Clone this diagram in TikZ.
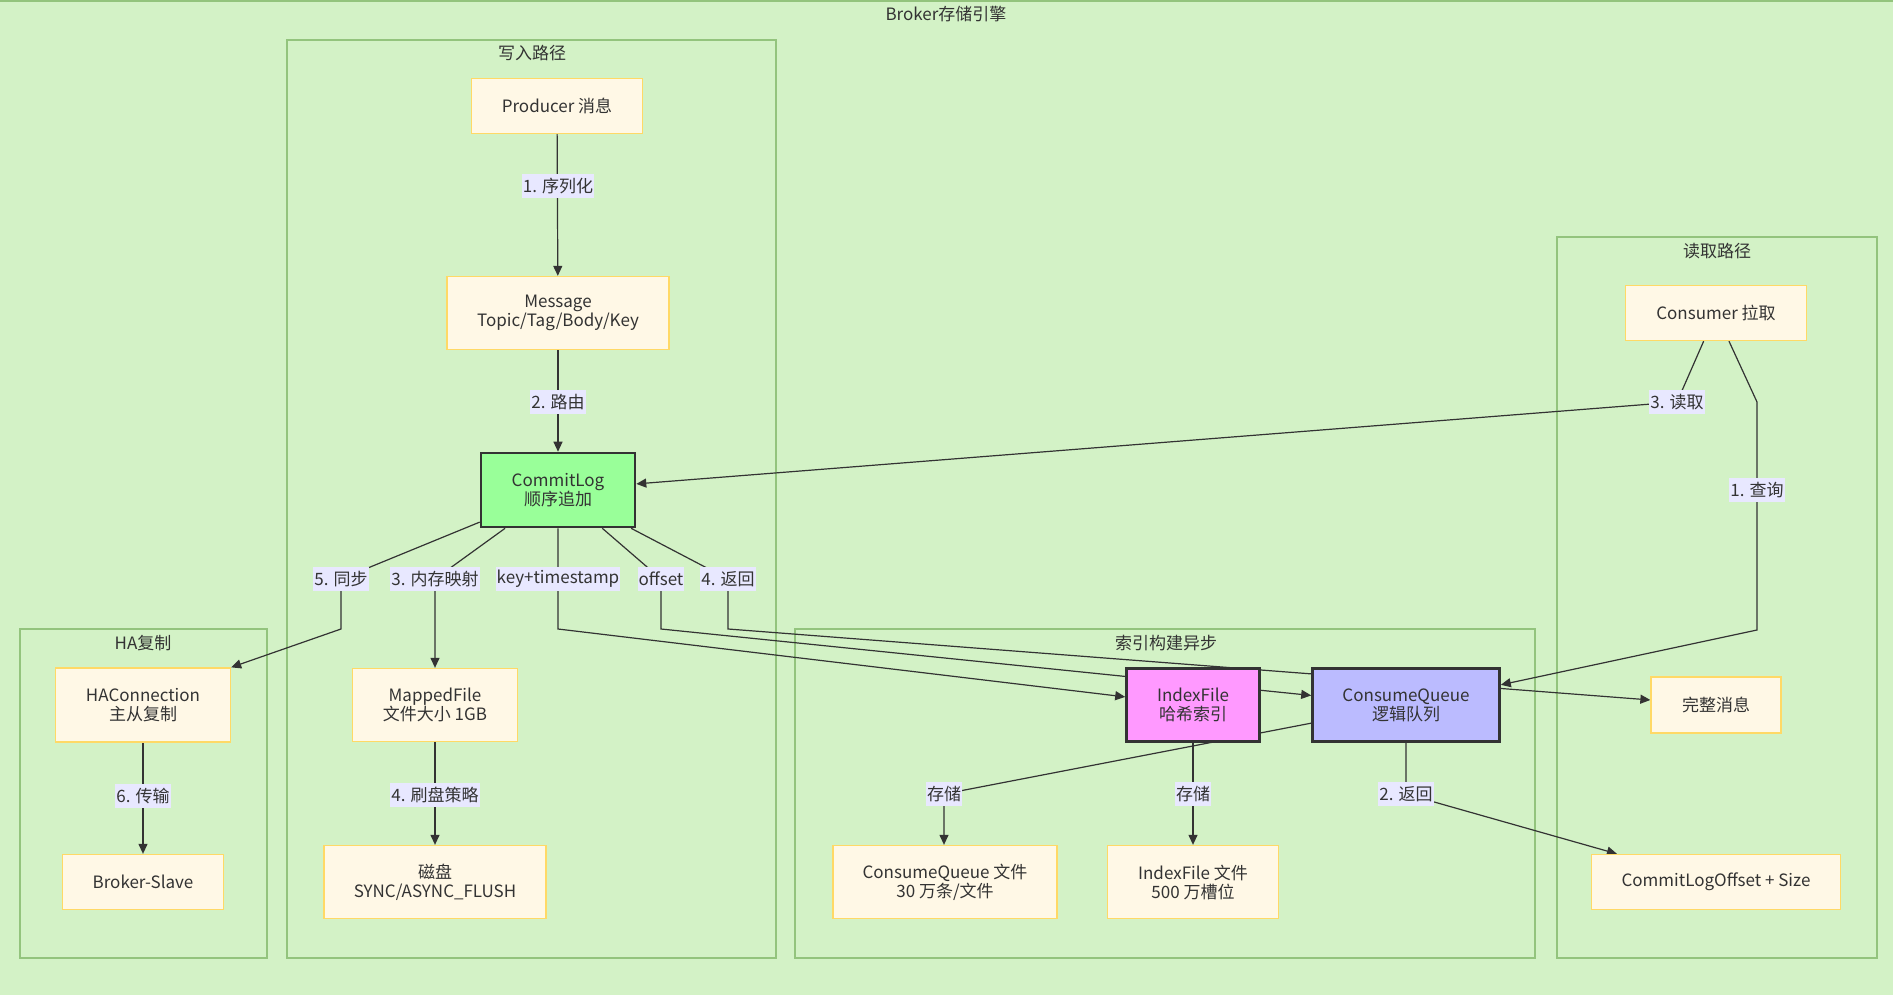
\documentclass[tikz,border=0pt]{standalone}
\usepackage{fontspec}
\setmainfont{Noto Sans CJK SC}
\usetikzlibrary{arrows.meta}
\definecolor{bgc}{HTML}{D3F2C6}
\definecolor{clus}{HTML}{93C47D}
\definecolor{nfill}{HTML}{FFF8E6}
\definecolor{ndraw}{HTML}{FFD966}
\definecolor{lblbg}{HTML}{E8E8FF}
\definecolor{txt}{HTML}{333333}
\definecolor{clfill}{HTML}{99FF99}
\definecolor{iffill}{HTML}{FF99FF}
\definecolor{cqfill}{HTML}{BBBBFF}
\pgfdeclarelayer{bglayer}
\pgfdeclarelayer{edgelayer}
\pgfsetlayers{bglayer,edgelayer,main}
\tikzset{
  nbox/.style={rectangle, draw=ndraw, fill=nfill, line width=1.3pt, text=txt,
    font=\fontsize{17}{19}\selectfont, align=center, inner sep=0pt},
  hbox/.style={nbox, draw=txt, line width=2.6pt},
  elbl/.style={rectangle, fill=lblbg, text=txt, font=\fontsize{17}{19}\selectfont,
    inner xsep=1pt, inner ysep=0pt, minimum height=24pt},
  clusterbox/.style={draw=clus, line width=1.4pt},
  ctitle/.style={text=txt, font=\fontsize{17}{19}\selectfont, inner sep=0pt},
  edgeline/.style={draw=txt, line width=1.2pt},
  arr/.style={edgeline, -{Triangle[length=10pt,width=9pt]}},
}
\begin{document}
\begin{tikzpicture}[x=1pt,y=-1pt]
\useasboundingbox (0,0) rectangle (1893,995);
\begin{pgfonlayer}{bglayer}
  \fill[bgc] (0,0) rectangle (1893,995);
  \draw[clus, line width=2pt] (0,1) -- (1893,1);
  \draw[clusterbox] (287,40) rectangle (776,958);
  \draw[clusterbox] (20,629) rectangle (267,958);
  \draw[clusterbox] (795,629) rectangle (1535,958);
  \draw[clusterbox] (1557,237) rectangle (1877,958);
\end{pgfonlayer}
% cluster titles
\node[ctitle] (tout) at (946,14) {Broker存储引擎};
\node[ctitle] (twrite) at (532,53) {写入路径};
\node[ctitle] (tha) at (143,643) {HA复制};
\node[ctitle] (tidx) at (1166,643) {索引构建异步};
\node[ctitle] (tread) at (1717,251) {读取路径};
% nodes
\node[nbox, minimum width=171pt, minimum height=55pt] (producer) at (557,106) {Producer 消息};
\node[nbox, minimum width=222pt, minimum height=73pt] (message) at (558,313) {Message\\Topic/Tag/Body/Key};
\node[hbox, fill=clfill, minimum width=154pt, minimum height=74pt] (commitlog) at (558,490) {CommitLog\\顺序追加};
\node[nbox, minimum width=165pt, minimum height=73pt] (mapped) at (435,705) {MappedFile\\文件大小 1GB};
\node[nbox, minimum width=222pt, minimum height=73pt] (disk) at (435,882) {磁盘\\SYNC/ASYNC\_FLUSH};
\node[nbox, minimum width=175pt, minimum height=74pt] (haconn) at (143,705) {HAConnection\\主从复制};
\node[nbox, minimum width=161pt, minimum height=55pt] (slave) at (143,882) {Broker-Slave};
\node[hbox, fill=iffill, minimum width=133pt, minimum height=73pt] (indexfile) at (1193,705) {IndexFile\\哈希索引};
\node[hbox, fill=cqfill, minimum width=187pt, minimum height=73pt] (cq) at (1406,705) {ConsumeQueue\\逻辑队列};
\node[nbox, minimum width=224pt, minimum height=73pt] (cqfile) at (945,882) {ConsumeQueue 文件\\30 万条/文件};
\node[nbox, minimum width=171pt, minimum height=73pt] (iffile) at (1193,882) {IndexFile 文件\\500 万槽位};
\node[nbox, minimum width=181pt, minimum height=55pt] (consumer) at (1716,313) {Consumer 拉取};
\node[nbox, minimum width=130pt, minimum height=56pt] (fullmsg) at (1716,705) {完整消息};
\node[nbox, minimum width=249pt, minimum height=55pt] (cloffset) at (1716,882) {CommitLogOffset + Size};
% edge labels
\node[elbl] (l1) at (558,186) {1. 序列化};
\node[elbl] (l2) at (558,402) {2. 路由};
\node[elbl] (l5) at (341,579) {5. 同步};
\node[elbl] (l3) at (435,579) {3. 内存映射};
\node[elbl] (lkt) at (558,579) {key+timestamp};
\node[elbl] (loff) at (661,579) {offset};
\node[elbl] (l4r) at (728,579) {4. 返回};
\node[elbl] (l4f) at (435,795) {4. 刷盘策略};
\node[elbl] (l6) at (143,796) {6. 传输};
\node[elbl] (ls1) at (944,794) {存储};
\node[elbl] (ls2) at (1193,794) {存储};
\node[elbl] (lr2) at (1406,794) {2. 返回};
\node[elbl] (lrd) at (1677,402) {3. 读取};
\node[elbl] (lq) at (1757,490) {1. 查询};
% bend points
\coordinate (b5) at (341,629);
\coordinate (bkt) at (558,629);
\coordinate (boff) at (661,629);
\coordinate (b4r) at (728,629);
\coordinate (bq1) at (1757,402);
\coordinate (bq2) at (1757,630);
% edges
\begin{pgfonlayer}{edgelayer}
  \draw[arr] (producer) -- (message);
  \draw[arr] (message) -- (commitlog);
  \draw[arr] (commitlog) -- (l5.center) -- (b5) -- (haconn.north east);
  \draw[arr] (commitlog) -- (l3.center) -- (mapped);
  \draw[arr] (commitlog) -- (lkt.center) -- (bkt) -- (indexfile);
  \draw[arr] (commitlog) -- (loff.center) -- (boff) -- (cq);
  \draw[arr] (commitlog) -- (l4r.center) -- (b4r) -- (fullmsg);
  \draw[arr] (mapped) -- (disk);
  \draw[arr] (haconn) -- (slave);
  \draw[arr] (cq) -- (ls1.center) -- (ls1.center |- cqfile.north);
  \draw[arr] (indexfile) -- (iffile);
  \draw[arr] (cq) -- (lr2.center) -- (cloffset);
  \draw[arr] (consumer) -- (lrd.center) -- (commitlog);
  \draw[arr] (consumer) -- (bq1) -- (lq.center) -- (bq2) -- (cq);
\end{pgfonlayer}
\end{tikzpicture}
\end{document}
